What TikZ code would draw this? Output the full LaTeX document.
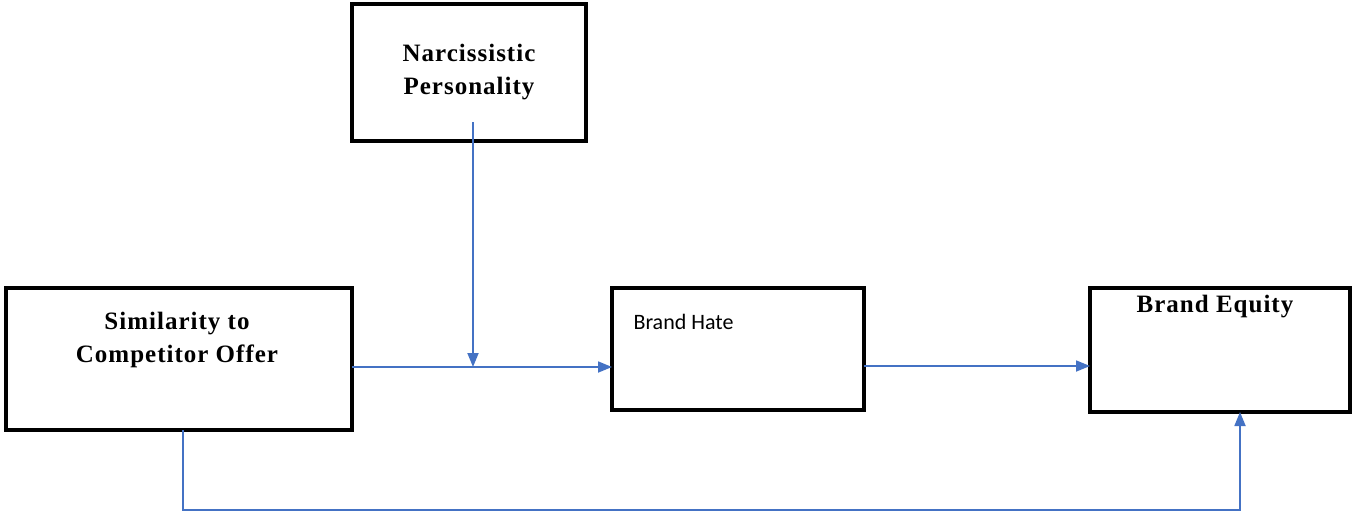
\documentclass[tikz,border=0pt]{standalone}
\usepackage{fontspec}
\setmainfont{Liberation Serif}[LetterSpace=4]
\newfontfamily\calib{Carlito}
\usetikzlibrary{arrows.meta}
\begin{document}
\begin{tikzpicture}[x=1pt,y=-1pt,
  box/.style={draw=black,line width=3.5pt},
  lbl/.style={font=\fontsize{25}{33}\selectfont\bfseries,align=center},
  conn/.style={draw={rgb,255:red,68;green,114;blue,196},line width=1.8pt},
  arr/.style={conn,-{Triangle[length=14pt,width=11pt]}}]
\useasboundingbox (0,0) rectangle (1355,517);
\draw[box] (352,4) rectangle (586,141);
\node[lbl] (np) at (469,72) {Narcissistic\\Personality};
\draw[box] (6,288) rectangle (352,430);
\node[lbl] (sim) at (177,340) {Similarity to\\Competitor Offer};
\draw[box] (612,288) rectangle (864,410);
\node[font=\calib\fontsize{22}{26}\selectfont,anchor=west] (bh) at (630,322) {Brand Hate};
\draw[box] (1090,288) rectangle (1350,412);
\node[lbl] (be) at (1215,307) {Brand Equity};
\coordinate (a) at (352,367);
\coordinate (b) at (612,367);
\coordinate (c) at (473,122);
\coordinate (d) at (473,367);
\coordinate (e) at (864,366);
\coordinate (f) at (1090,366);
\coordinate (g) at (183,430);
\coordinate (h) at (183,510);
\coordinate (i) at (1240,510);
\coordinate (j) at (1240,412);
\draw[arr] (a) -- (b);
\draw[arr] (c) -- (d);
\draw[arr] (e) -- (f);
\draw[arr] (g) -- (h) -- (i) -- (j);
\end{tikzpicture}
\end{document}
